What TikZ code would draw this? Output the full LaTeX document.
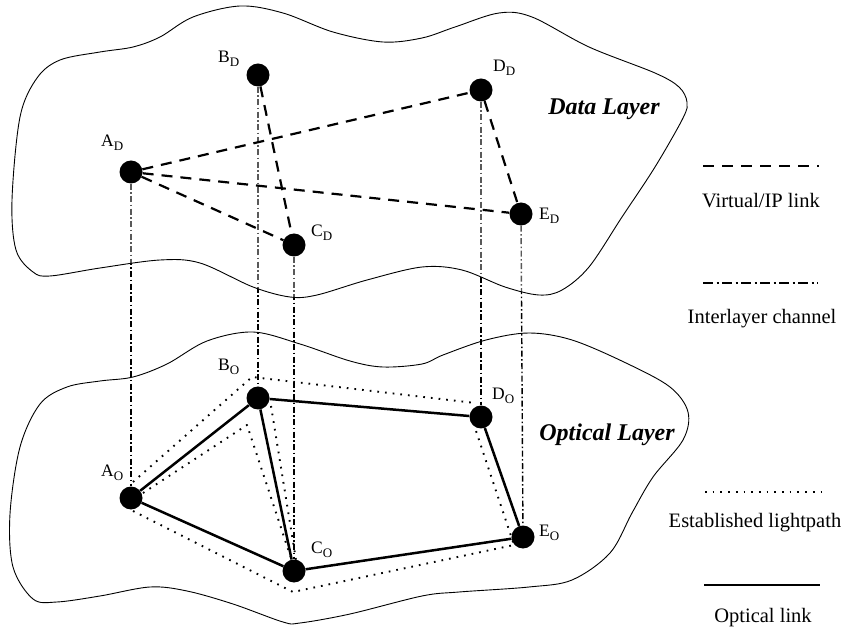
\documentclass[tikz,border=0pt]{standalone}
\usepackage{fontspec}
\setmainfont{Liberation Serif}
\newcommand{\lsub}[2]{#1\raisebox{-4pt}{\fontsize{13}{13}\selectfont #2}}
\pgfdeclarelayer{back}
\pgfdeclarelayer{veil}
\pgfsetlayers{back,veil,main}
\tikzset{
  netnode/.style={circle, fill=black, minimum size=23pt, inner sep=0pt},
  nodelabel/.style={anchor=base west, inner sep=0pt, font=\fontsize{17.5}{17.5}\selectfont},
  layertitle/.style={anchor=base, inner sep=0pt, font=\fontsize{24}{24}\selectfont\bfseries\itshape},
  legendtext/.style={anchor=base, inner sep=0pt, font=\fontsize{20.5}{20.5}\selectfont},
  cloudline/.style={line width=0.9pt, line join=round},
  virtual/.style={line width=2.2pt, dash pattern=on 11pt off 8pt},
  interlayer/.style={line width=1.4pt, dash pattern=on 6pt off 2.5pt on 1.5pt off 2.5pt},
  interkey/.style={line width=1.6pt, dash pattern=on 10pt off 3.5pt on 2pt off 3.5pt},
  lightpath/.style={line width=1.9pt, dash pattern=on 1.7pt off 6pt, line join=round},
  optlink/.style={line width=2.5pt},
}
\begin{document}
\begin{tikzpicture}[x=1pt, y=-1pt]
\useasboundingbox (0,0) rectangle (844,628);

% ---------- nodes of both layers ----------
\node[netnode] (AD) at (131,172) {};
\node[netnode] (BD) at (258,75) {};
\node[netnode] (CD) at (294,245) {};
\node[netnode] (DD) at (481,90) {};
\node[netnode] (ED) at (521,214) {};

\node[netnode] (AO) at (131,498) {};
\node[netnode] (BO) at (258,398) {};
\node[netnode] (CO) at (294,571) {};
\node[netnode] (DO) at (481,417) {};
\node[netnode] (EO) at (523,537) {};

% ---------- optical layer outline and interlayer channels ----------
\begin{pgfonlayer}{back}
  \draw[cloudline] plot[smooth cycle, tension=0.55] coordinates {
    (40,404) (67,387) (100,381) (133,377) (167,364) (207,341) (253,332)
    (300,344) (350,361) (383,367) (422,364) (443,355) (486,340) (529,333)
    (572,340) (626,363) (670,387) (688,412) (683,440) (653,477) (632,513)
    (610,553) (572,580) (529,587) (459,592) (422,596) (350,614) (300,623)
    (283,622) (233,604) (187,591) (150,587) (100,596) (57,602) (33,599)
    (13,567) (10,514) (20,447)};
  \draw[interlayer] (AD) -- (AO);
  \draw[interlayer] (BD) -- (BO);
  \draw[interlayer] (CD) -- (CO);
  \draw[interlayer] (DD) -- (DO);
  \draw[interlayer] (ED) -- (EO);
\end{pgfonlayer}

% ---------- data layer outline (light veil over the channels) ----------
\begin{pgfonlayer}{veil}
  \draw[cloudline, fill=white, fill opacity=0.35] plot[smooth cycle, tension=0.55] coordinates {
    (37,78) (60,60) (100,52) (133,47) (160,37) (193,17) (240,6) (283,13)
    (333,32) (383,42) (422,38) (455,27) (499,13) (532,17) (589,47) (655,73)
    (679,87) (687,102) (683,118) (655,167) (622,217) (589,267) (562,290)
    (539,295) (505,287) (462,270) (422,267) (367,280) (317,295) (290,297)
    (253,287) (200,263) (160,260) (100,268) (50,276) (33,272) (16,250)
    (12,200) (20,117)};
\end{pgfonlayer}

% ---------- virtual / IP links ----------
\draw[virtual] (AD) -- (DD);
\draw[virtual] (AD) -- (ED);
\draw[virtual] (AD) -- (CD);
\draw[virtual] (BD) -- (CD);
\draw[virtual] (DD) -- (ED);

% ---------- established lightpaths ----------
\coordinate (p1a) at (133,482);
\coordinate (p1b) at (252,377);
\coordinate (p1c) at (475,403);
\draw[lightpath] (p1a) -- (p1b) -- (p1c);

\coordinate (p2a) at (133,511);
\coordinate (p2b) at (293,592);
\coordinate (p2c) at (514,545);
\coordinate (p2d) at (475,428);
\draw[lightpath] (p2a) -- (p2b) -- (p2c) -- (p2d);

\coordinate (p3a) at (143,493);
\coordinate (p3b) at (247,425);
\coordinate (p3c) at (292,561);
\draw[lightpath] (p3a) -- (p3b) -- (p3c);

\coordinate (p4a) at (271,406);
\coordinate (p4b) at (296,560);
\draw[lightpath] (p4a) -- (p4b);

% ---------- optical links ----------
\draw[optlink] (AO) -- (BO);
\draw[optlink] (BO) -- (CO);
\draw[optlink] (AO) -- (CO);
\draw[optlink] (CO) -- (EO);
\draw[optlink] (BO) -- (DO);
\draw[optlink] (DO) -- (EO);

% ---------- node names ----------
\node[nodelabel] (lAD) at (101,147) {\lsub{A}{D}};
\node[nodelabel] (lBD) at (218,63)  {\lsub{B}{D}};
\node[nodelabel] (lCD) at (311,237) {\lsub{C}{D}};
\node[nodelabel] (lDD) at (493,72)  {\lsub{D}{D}};
\node[nodelabel] (lED) at (539,220) {\lsub{E}{D}};

\node[nodelabel] (lAO) at (101,476) {\lsub{A}{O}};
\node[nodelabel] (lBO) at (218,371) {\lsub{B}{O}};
\node[nodelabel] (lCO) at (311,553) {\lsub{C}{O}};
\node[nodelabel] (lDO) at (492,400) {\lsub{D}{O}};
\node[nodelabel] (lEO) at (539,536) {\lsub{E}{O}};

% ---------- layer titles ----------
\node[layertitle] (tData) at (604,115) {Data Layer};
\node[layertitle] (tOpt)  at (607,440) {Optical Layer};

% ---------- legend ----------
\coordinate (k1a) at (703,166); \coordinate (k1b) at (819,166);
\coordinate (k2a) at (703,283); \coordinate (k2b) at (818,283);
\coordinate (k3a) at (705,492); \coordinate (k3b) at (822,492);
\coordinate (k4a) at (704,585); \coordinate (k4b) at (820,585);
\draw[virtual]   (k1a) -- (k1b);
\draw[interkey]  (k2a) -- (k2b);
\draw[lightpath] (k3a) -- (k3b);
\draw[optlink]   (k4a) -- (k4b);
\node[legendtext] (g1) at (761,208) {Virtual/IP link};
\node[legendtext] (g2) at (762,324) {Interlayer channel};
\node[legendtext] (g3) at (755,527) {Established lightpath};
\node[legendtext] (g4) at (763,622) {Optical link};
\end{tikzpicture}
\end{document}
